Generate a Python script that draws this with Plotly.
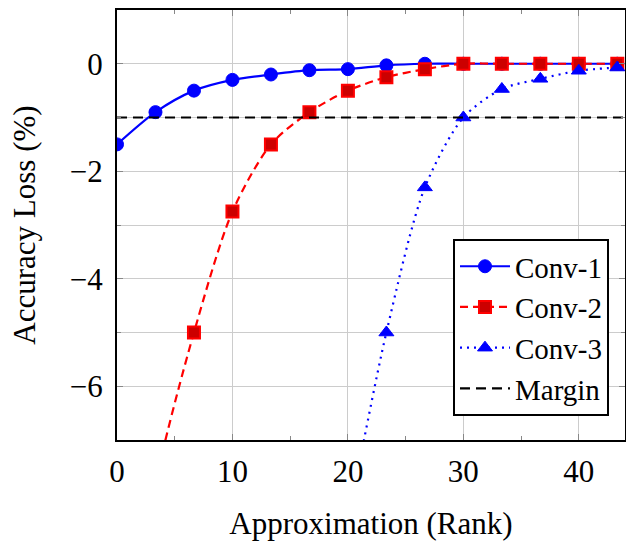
import plotly.graph_objects as go

# Data (rank approximation vs accuracy loss in %)
rank = [0, 10/3, 20/3, 10, 40/3, 50/3, 20, 70/3, 80/3, 30, 100/3, 110/3, 40, 130/3]
conv1 = [-1.5, -0.9, -0.5, -0.3, -0.2, -0.12, -0.1, -0.03, 0.0, 0.0, 0.0, 0.0, 0.0, 0.0]
conv2 = [-12.0, -7.8, -5.0, -2.75, -1.5, -0.9, -0.5, -0.25, -0.1, 0.0, 0.0, 0.0, 0.0, 0.0]
rank3 = [50/3, 20, 70/3, 80/3, 30, 100/3, 110/3, 40, 130/3]
conv3 = [-12.0, -8.5, -5.0, -2.3, -1.0, -0.47, -0.28, -0.13, -0.07]
margin_x = [0, 45]
margin_y = [-1, -1]

FONT = "Liberation Serif"
FS = 31

fig = go.Figure()
fig.add_trace(go.Scatter(
    x=rank, y=conv1, name="Conv-1", mode="lines+markers",
    line=dict(color="#0000ff", width=2.2, shape="spline", smoothing=0.8),
    marker=dict(symbol="circle", size=13, color="#0000ff", line=dict(color="#0000ff", width=1)),
))
fig.add_trace(go.Scatter(
    x=rank, y=conv2, name="Conv-2", mode="lines+markers",
    line=dict(color="#ff0000", width=2.2, dash="8px,5px", shape="spline", smoothing=0.8),
    marker=dict(symbol="square", size=12, color="#cc0000", line=dict(color="#ff0000", width=2)),
))
fig.add_trace(go.Scatter(
    x=rank3, y=conv3, name="Conv-3", mode="lines+markers",
    line=dict(color="#0000ff", width=2.2, dash="2px,5px", shape="spline", smoothing=0.8),
    marker=dict(symbol="triangle-up", size=13, color="#0000ff", line=dict(color="#0000ff", width=1)),
))
fig.add_trace(go.Scatter(
    x=margin_x, y=margin_y, name="Margin", mode="lines",
    line=dict(color="black", width=2.2, dash="10px,6px"),
))

fig.update_layout(
    width=626, height=545,
    margin=dict(l=117, r=1, t=10, b=105, autoexpand=False),
    paper_bgcolor="white", plot_bgcolor="white",
    font=dict(family=FONT, size=FS, color="black"),
    showlegend=True,
    legend=dict(
        x=0.9685, y=0.056, xanchor="right", yanchor="bottom",
        bordercolor="black", borderwidth=2, bgcolor="white",
        font=dict(family=FONT, size=29), tracegroupgap=0,
        itemwidth=50,
    ),
)
fig.update_xaxes(
    range=[0, 44], tickmode="linear", tick0=0, dtick=10, automargin=False,
    showgrid=True, gridcolor="#cccccc", gridwidth=1,
    showline=True, linecolor="black", linewidth=2, mirror="ticks",
    ticks="inside", ticklen=6, tickcolor="#888888", zeroline=False,
    ticklabelstandoff=3,
    minor=dict(dtick=5, ticks="inside", ticklen=4, tickcolor="#888888", showgrid=False),
    title=dict(text="Approximation (Rank)", standoff=24, font=dict(family=FONT, size=FS)),
)
fig.update_yaxes(
    range=[-7, 1], tickmode="linear", tick0=0, dtick=2, automargin=False,
    showgrid=True, gridcolor="#cccccc", gridwidth=1,
    showline=True, linecolor="black", linewidth=2, mirror="ticks",
    ticks="inside", ticklen=6, tickcolor="#888888", zeroline=False,
    ticklabelstandoff=6,
    minor=dict(dtick=1, ticks="inside", ticklen=4, tickcolor="#888888", showgrid=True, gridcolor="#cccccc", gridwidth=1),
    title=dict(text="Accuracy Loss (%)", standoff=25, font=dict(family=FONT, size=FS)),
)

fig.write_html("out.html", config={"displayModeBar": False},
               post_script="document.body.style.margin='0';")
